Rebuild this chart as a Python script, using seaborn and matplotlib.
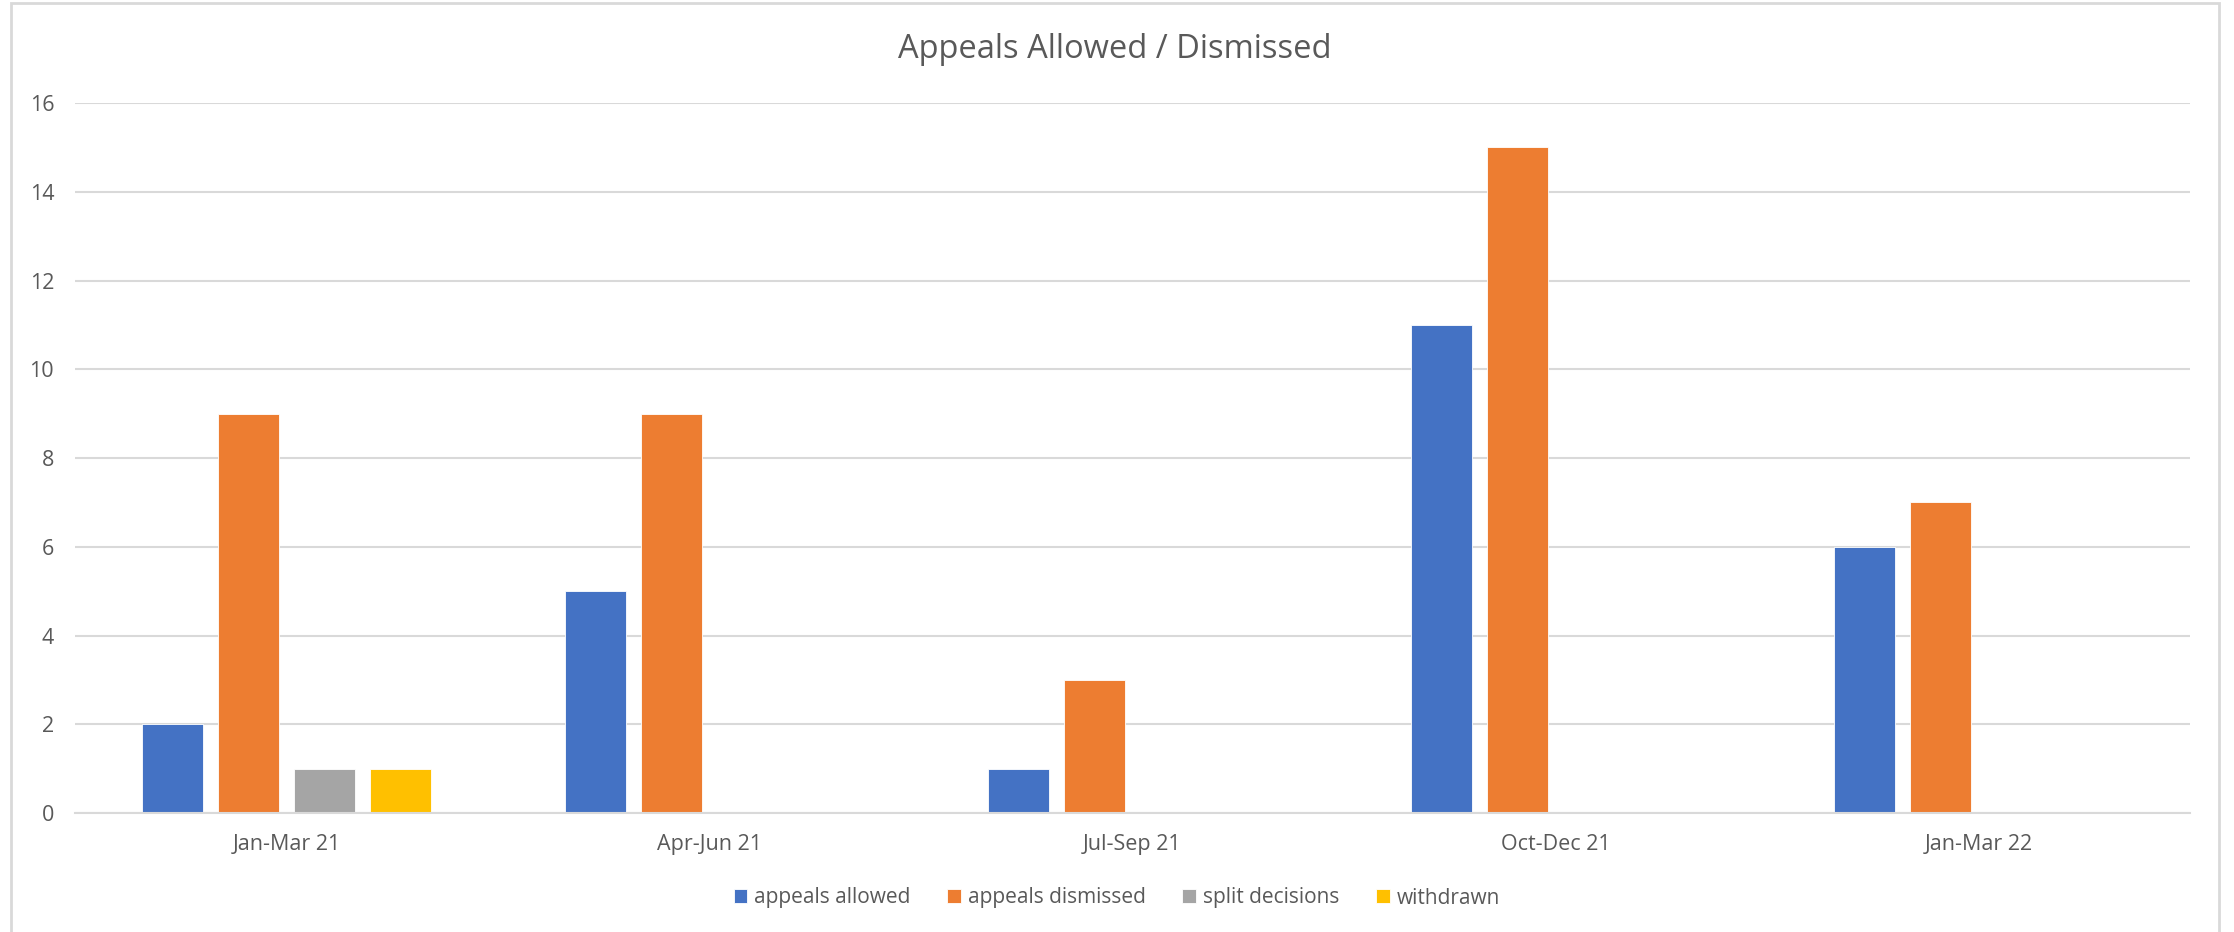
import matplotlib
matplotlib.use("Agg")
import matplotlib.pyplot as plt
import matplotlib.patches as mpatches
import seaborn as sns
import pandas as pd

# Quarterly appeal outcomes
quarters = ["Jan-Mar 21", "Apr-Jun 21", "Jul-Sep 21", "Oct-Dec 21", "Jan-Mar 22"]
appeals_allowed = [2, 5, 1, 11, 6]
appeals_dismissed = [9, 9, 3, 15, 7]
split_decisions = [1, 0, 0, 0, 0]
withdrawn = [1, 0, 0, 0, 0]
series_names = ["appeals allowed", "appeals dismissed", "split decisions", "withdrawn"]
series_colors = ["#4472C4", "#ED7D31", "#A5A5A5", "#FFC000"]
y_ticks = [0, 2, 4, 6, 8, 10, 12, 14, 16]

rows = []
for name, vals in zip(series_names, [appeals_allowed, appeals_dismissed, split_decisions, withdrawn]):
    for q, v in zip(quarters, vals):
        rows.append({"quarter": q, "outcome": name, "count": v})
df = pd.DataFrame(rows)

sns.set_theme(style="white")
plt.rcParams["font.family"] = ["Open Sans", "DejaVu Sans"]

W, H = 2234, 932
fig = plt.figure(figsize=(W / 100, H / 100), dpi=100)
ax = fig.add_axes([75 / W, 1 - 813 / H, (2190 - 75) / W, (813 - 103) / H])

sns.barplot(data=df, x="quarter", y="count", hue="outcome", order=quarters,
            hue_order=series_names, palette=series_colors, width=0.72, gap=0.2,
            saturation=1, ax=ax, legend=True, edgecolor="white", linewidth=0.6)

grid_c = "#D9D9D9"
text_c = "#595959"
ax.set_ylim(0, 16)
ax.set_xlim(-0.5, len(quarters) - 0.5)
ax.set_yticks(y_ticks)
ax.yaxis.grid(True, color=grid_c, linewidth=1.5)
ax.set_axisbelow(True)
for s in ["top", "right", "left"]:
    ax.spines[s].set_visible(False)
ax.spines["bottom"].set_color(grid_c)
ax.spines["bottom"].set_linewidth(1.5)
ax.tick_params(axis="both", length=0, labelsize=15.5, colors=text_c)
ax.tick_params(axis="x", pad=15)
ax.tick_params(axis="y", pad=15)
ax.set_xlabel("")
ax.set_ylabel("")

handles, labels = ax.get_legend_handles_labels()
ax.get_legend().remove()
fig.legend(handles, labels, loc="center", bbox_to_anchor=(0.5, 1 - 898 / H),
           ncol=4, frameon=False, fontsize=15, labelcolor=text_c,
           handlelength=0.65, handleheight=0.65, handletextpad=0.35, columnspacing=1.75)

fig.text(1115 / W, 1 - 50 / H, "Appeals Allowed / Dismissed", ha="center", va="center",
         fontsize=23.5, color=text_c)

# light chart-area border
fig.patches.append(mpatches.Rectangle((11 / W, -0.01), (2219 - 11) / W, 1.01 - 3 / H,
                                      transform=fig.transFigure, fill=False,
                                      edgecolor=grid_c, linewidth=2))

fig.savefig("out.png", dpi=100, facecolor="white")
